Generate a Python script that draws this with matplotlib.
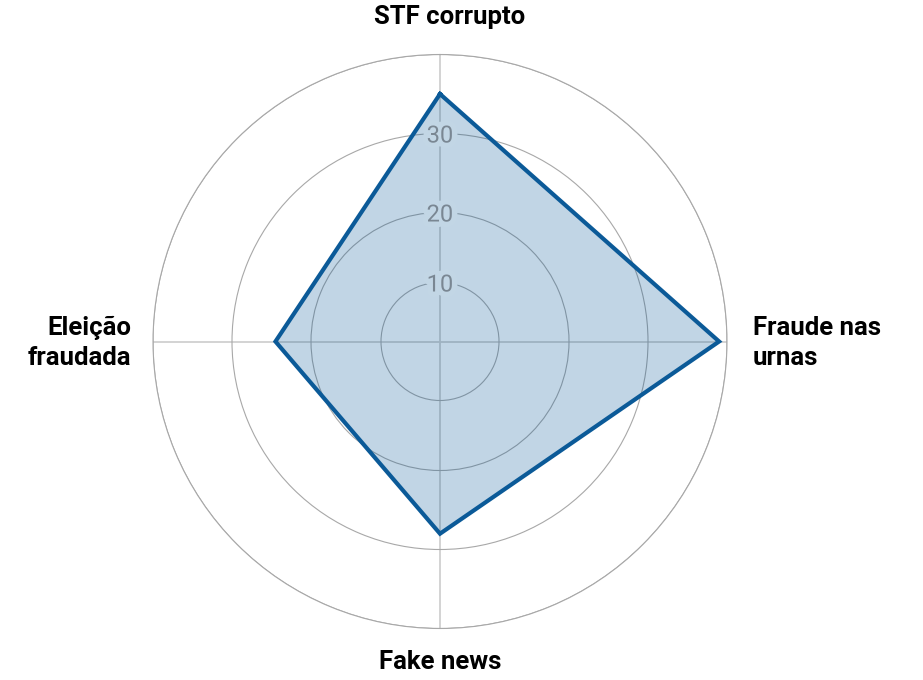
import numpy as np
import matplotlib
matplotlib.use('Agg')
import matplotlib.pyplot as plt
import matplotlib.patheffects as pe

plt.rcParams['font.family'] = ['Roboto', 'DejaVu Sans']

# data
categorias = ['STF corrupto', 'Fraude nas\nurnas', 'Fake news', 'Eleição\nfraudada']
valores = [35.0, 39.0, 28.0, 24.5]
niveis = [10, 20, 30, 40]
rotulos_niveis = ['10', '20', '30']

# radial scale of the original is not linear, read off the grid circles
kv = np.array([0, 10, 20, 30, 40], float)
kr = np.array([0, 59, 129, 208, 287], float)

def fwd(v):
    v = np.asarray(v, float)
    return np.where(v <= 40, np.interp(v, kv, kr), 287 + (v - 40) * 7.9)

def inv(r):
    r = np.asarray(r, float)
    return np.where(r <= 287, np.interp(r, kr, kv), 40 + (r - 287) / 7.9)

W, H = 923, 680
fig = plt.figure(figsize=(W / 100, H / 100), dpi=100)
cx, cy, R = 440, 341.5, 287
ax = fig.add_axes([(cx - R) / W, (H - cy - R) / H, 2 * R / W, 2 * R / H], projection='polar')
ax.set_theta_zero_location('N')
ax.set_theta_direction(-1)
ax.set_rscale('function', functions=(fwd, inv))
ax.set_ylim(0, 40)

azul = '#0b5a98'
ang = np.deg2rad([0, 90, 180, 270])

ax.set_xticks(ang)
ax.set_xticklabels([])
ax.set_yticks(niveis)
ax.set_yticklabels([])
ax.xaxis.grid(True, color='#d0d0d0', lw=1.3)
ax.yaxis.grid(True, color='#a8a8a8', lw=0.8)
ax.spines['polar'].set_color('#a8a8a8')
ax.spines['polar'].set_linewidth(0.8)
ax.set_axisbelow(True)

t = np.append(ang, ang[0])
v = valores + [valores[0]]
ax.fill(t, v, color=azul, alpha=0.25, lw=0, zorder=2)
ax.plot(t, v, color=azul, lw=3, solid_joinstyle='miter', zorder=3)

halo = '#c2d6e5'
for n, lab in zip(niveis, rotulos_niveis):
    t_ = ax.text(0, n, lab, ha='center', va='center_baseline', fontsize=17, color='#7a8793', zorder=4,
                 path_effects=[pe.withStroke(linewidth=8, foreground=halo)])

def px(x, y):
    return x / W, 1 - y / H

kw = dict(fontsize=18.5, fontweight='bold', color='black', linespacing=1.3)
fig.text(*px(450, 17), categorias[0], ha='center', va='center', **kw)
fig.text(*px(753, 343), categorias[1], ha='left', va='center', **kw)
fig.text(*px(440, 662), categorias[2], ha='center', va='center', **kw)
fig.text(*px(131, 343), categorias[3], ha='right', va='center', **kw)

fig.savefig('out.png', dpi=100, facecolor='white')
